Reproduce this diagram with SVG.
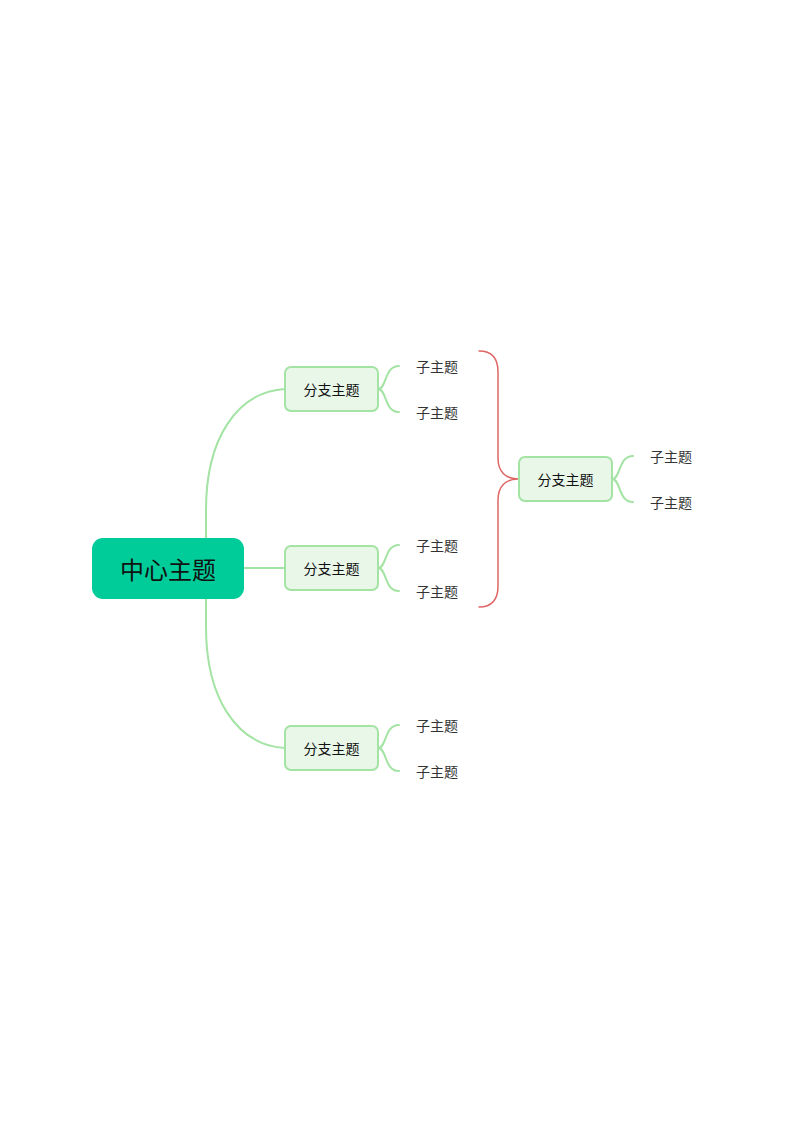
<svg xmlns="http://www.w3.org/2000/svg" width="800" height="1131" viewBox="0 0 800 1131">
<style>
.bg{fill:#ffffff}
.conn{fill:none;stroke:#a3e3a3;stroke-width:2;stroke-linecap:round}
.red{fill:none;stroke:#e06666;stroke-width:1.5;stroke-linecap:round}
.center rect{fill:#00cc99}
.center text{font-family:"Noto Sans CJK SC","Noto Sans",sans-serif;font-size:24px;fill:#111111;text-anchor:middle;dominant-baseline:central}
.branch rect{fill:#e9f7e9;stroke:#a3e3a3;stroke-width:2}
.branch text{font-family:"Noto Sans CJK SC","Noto Sans",sans-serif;font-size:14px;fill:#111111;text-anchor:middle;dominant-baseline:central}
.sub text{font-family:"Noto Sans CJK SC","Noto Sans",sans-serif;font-size:14px;fill:#333333;dominant-baseline:central}
</style>
<rect class="bg" x="0" y="0" width="800" height="1131"/>
<g id="connectors">
<path class="conn" d="M206 538 L206 510 C206 440 236 392 285 389"/>
<path class="conn" d="M244 568 L285 568"/>
<path class="conn" d="M206 599 L206 627 C206 697 236 745 285 748"/>
<path class="conn" d="M378 389 C387 389 384 366 399 366"/>
<path class="conn" d="M378 389 C387 389 384 412 399 412"/>
<path class="conn" d="M378 568 C387 568 384 545 399 545"/>
<path class="conn" d="M378 568 C387 568 384 591 399 591"/>
<path class="conn" d="M378 748 C387 748 384 725 399 725"/>
<path class="conn" d="M378 748 C387 748 384 771 399 771"/>
<path class="conn" d="M612 479 C621 479 618 456 633 456"/>
<path class="conn" d="M612 479 C621 479 618 502 633 502"/>
<path class="red" d="M479 351 C492 351 498 358 498 372 L498 458 C498 472 506 479 518 479 C506 479 498 486 498 500 L498 586 C498 600 492 607 479 607"/>
</g>
<g id="center" class="center">
<rect x="92" y="538" width="152" height="61" rx="11"/>
<text x="168" y="568">中心主题</text>
</g>
<g id="branch1" class="branch">
<rect x="285" y="367" width="93" height="44" rx="6"/>
<text x="331.5" y="388.5">分支主题</text>
</g>
<g id="branch2" class="branch">
<rect x="285" y="546" width="93" height="44" rx="6"/>
<text x="331.5" y="567.5">分支主题</text>
</g>
<g id="branch3" class="branch">
<rect x="285" y="726" width="93" height="44" rx="6"/>
<text x="331.5" y="747.5">分支主题</text>
</g>
<g id="branch4" class="branch">
<rect x="519" y="457" width="93" height="44" rx="6"/>
<text x="565.5" y="478.5">分支主题</text>
</g>
<g id="sub1a" class="sub"><text x="416" y="365.5">子主题</text></g>
<g id="sub1b" class="sub"><text x="416" y="411.5">子主题</text></g>
<g id="sub2a" class="sub"><text x="416" y="544.5">子主题</text></g>
<g id="sub2b" class="sub"><text x="416" y="590.5">子主题</text></g>
<g id="sub3a" class="sub"><text x="416" y="724.5">子主题</text></g>
<g id="sub3b" class="sub"><text x="416" y="770.5">子主题</text></g>
<g id="sub4a" class="sub"><text x="650" y="455.5">子主题</text></g>
<g id="sub4b" class="sub"><text x="650" y="501.5">子主题</text></g>
</svg>
